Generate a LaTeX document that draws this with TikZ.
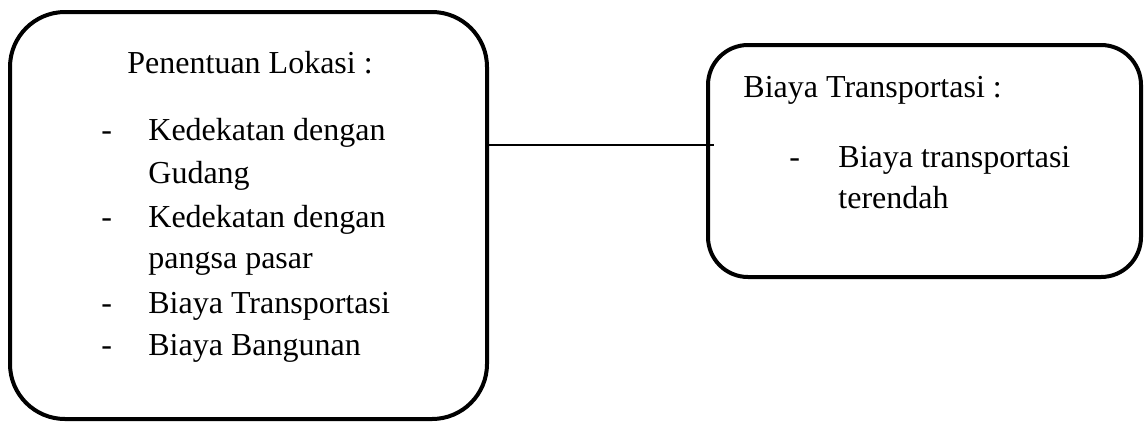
\documentclass[tikz,border=0pt]{standalone}
\usepackage{fontspec}
\setmainfont{Liberation Serif}
\usetikzlibrary{positioning}

\begin{document}
\begin{tikzpicture}[
        x=0.5pt, y=-0.5pt,
        box/.style={draw, rectangle, line width=2pt, inner sep=0pt},
        txt/.style={inner sep=0pt, anchor=base west, font=\fontsize{16}{19}\selectfont},
        link/.style={draw, line width=1pt}
    ]
    \useasboundingbox (0,0) rectangle (1144,424);

    % Boxes
    \node[box, rounded corners=27.5pt, minimum width=238.5pt, minimum height=203.5pt] (lokasi) at (248.5,215.5) {};
    \node[box, rounded corners=20pt, minimum width=216.5pt, minimum height=116pt] (biaya) at (924.5,161) {};

    % Left box text
    \node[txt] (lokasititle) at (127,73) {Penentuan Lokasi :};
    \foreach \i/\yy in {1/140, 2/227, 3/313, 4/355}
        \node[txt] (ldash\i) at (101,\yy) {-};
    \node[txt] (gudang1) at (148,140) {Kedekatan dengan};
    \node[txt] (gudang2) at (148,183) {Gudang};
    \node[txt] (pasar1) at (148,227) {Kedekatan dengan};
    \node[txt] (pasar2) at (148,268) {pangsa pasar};
    \node[txt] (transport) at (148,313) {Biaya Transportasi};
    \node[txt] (bangunan) at (148,355) {Biaya Bangunan};

    % Right box text
    \node[txt] (biayatitle) at (743,97) {Biaya Transportasi :};
    \node[txt] (rdash) at (789,167) {-};
    \node[txt] (rendah1) at (838,167) {Biaya transportasi};
    \node[txt] (rendah2) at (838,208) {terendah};

    % Connector
    \draw[link] (lokasi.east |- 0,145) -- ([xshift=4pt]biaya.west |- 0,145);
\end{tikzpicture}
\end{document}
